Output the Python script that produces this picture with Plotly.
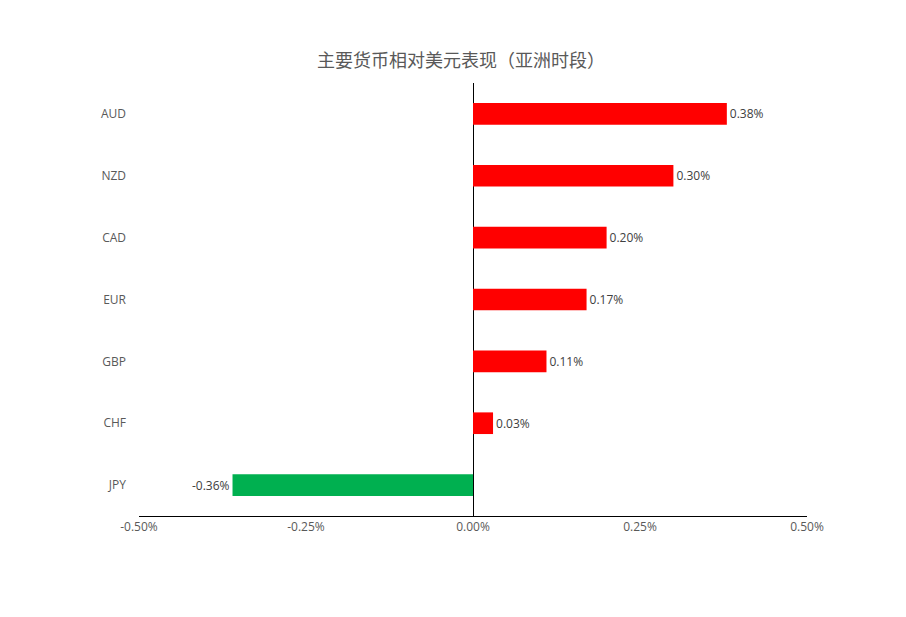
import plotly.graph_objects as go

currencies = ["AUD", "NZD", "CAD", "EUR", "GBP", "CHF", "JPY"]
changes = [0.38, 0.30, 0.20, 0.17, 0.11, 0.03, -0.36]
tick_vals = [-0.5, -0.25, 0, 0.25, 0.5]
tick_text = ["-0.50%", "-0.25%", "0.00%", "0.25%", "0.50%"]

colors = ["#FF0000" if v >= 0 else "#00B050" for v in changes]
labels = ["{:.2f}%".format(v) for v in changes]

fig = go.Figure(go.Bar(
    x=changes, y=currencies, orientation="h",
    marker=dict(color=colors, line_width=0),
    width=0.35,
    text=labels, textposition="outside", cliponaxis=False,
    textfont=dict(size=12, color="#404040"),
))

fig.update_layout(
    width=906, height=617,
    paper_bgcolor="white", plot_bgcolor="white",
    font=dict(family="Open Sans, Noto Sans CJK SC", color="#595959", size=12),
    title=dict(text="主要货币相对美元表现（亚洲时段）", x=0.5, y=0.925, xanchor="center",
               font=dict(family="Noto Sans CJK SC", size=18, color="#595959")),
    margin=dict(l=131, r=107, t=75, b=109),
    showlegend=False,
)
fig.update_xaxes(range=[-0.5, 0.5], tickvals=tick_vals, ticktext=tick_text,
                 showgrid=False, zeroline=True, zerolinecolor="black", zerolinewidth=1,
                 showline=True, linecolor="black", linewidth=1)
fig.update_yaxes(categoryorder="array", categoryarray=currencies[::-1],
                 showgrid=False, showline=False, ticklabelstandoff=12)

fig.write_html("out.html")
